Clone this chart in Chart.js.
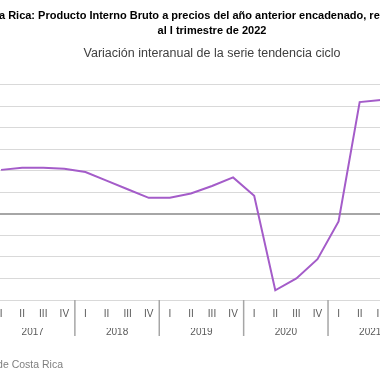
<!DOCTYPE html>
<html lang="es">
<head>
<meta charset="utf-8">
<title>PIB Costa Rica - variación interanual</title>
<script src="https://cdn.jsdelivr.net/npm/chart.js@4.4.1/dist/chart.umd.min.js"></script>
<style>
    html, body { margin: 0; padding: 0; background: #fff; overflow: hidden; }
    #wrap { position: absolute; left: -60px; top: 0; width: 544px; height: 380px; }
    #fuente {
        position: absolute; right: 317px; top: 358px;
        font: 10.5px "Liberation Sans", Arial, sans-serif; color: #7f7f7f; white-space: nowrap;
    }
</style>
</head>
<body>
<div id="wrap"><canvas id="pibChart" width="544" height="380"></canvas></div>
<div id="fuente">Fuente: Banco Central de Costa Rica</div>

<script>
    // datos del gráfico
    const years = ['2017', '2018', '2019', '2020', '2021', '2022'];
    const quartersPerYear = [4, 4, 4, 4, 4, 1];
    const quarters = ['I', 'II', 'III', 'IV', 'I', 'II', 'III', 'IV', 'I', 'II', 'III', 'IV',
                      'I', 'II', 'III', 'IV', 'I', 'II', 'III', 'IV', 'I'];
    // variación interanual (%), serie tendencia ciclo
    const variacion = [4.1, 4.3, 4.3, 4.2, 3.9, 3.1, 2.3, 1.5, 1.5, 1.9, 2.6, 3.4,
                       1.7, -7.1, -6.0, -4.2, -0.7, 10.4, 10.6, null, null];

    const FONT = "'Liberation Sans', Arial, sans-serif";

    // centro de cada año sobre el eje de trimestres
    const yearCenters = [];
    let acc = 0;
    quartersPerYear.forEach(n => { yearCenters.push(acc + (n - 1) / 2); acc += n; });

    // líneas verticales que separan los años
    const divisores = {
        id: 'divisores',
        afterDraw(chart) {
            const x = chart.scales.x;
            const bottom = chart.scales.year.bottom;
            const paso = x.getPixelForValue(1) - x.getPixelForValue(0);
            const ctx = chart.ctx;
            ctx.save();
            ctx.strokeStyle = '#a6a6a6';
            ctx.lineWidth = 1.5;
            let i = 0;
            for (let k = 0; k <= quartersPerYear.length; k++) {
                const px = x.getPixelForValue(i) - paso / 2;
                ctx.beginPath();
                ctx.moveTo(px, chart.chartArea.bottom);
                ctx.lineTo(px, bottom);
                ctx.stroke();
                i += quartersPerYear[k] || 0;
            }
            ctx.restore();
        }
    };

    const ctx = document.getElementById('pibChart').getContext('2d');
    new Chart(ctx, {
        type: 'line',
        data: {
            labels: quarters,
            datasets: [{
                label: 'Variación interanual',
                data: variacion,
                borderColor: '#a45cc9',
                borderWidth: 2,
                pointRadius: 0,
                tension: 0,
                fill: false
            }]
        },
        options: {
            responsive: false,
            animation: false,
            layout: { padding: { left: 10.5, right: 10.5, top: 0, bottom: 44 } },
            plugins: {
                legend: { display: false },
                tooltip: { enabled: false },
                title: {
                    display: true,
                    text: ['Costa Rica: Producto Interno Bruto a precios del año anterior encadenado, referencia 2017',
                           'al I trimestre de 2022'],
                    color: '#000',
                    font: { family: FONT, size: 11, weight: 'bold', lineHeight: 1.36 },
                    padding: { top: 8.5, bottom: 0 }
                },
                subtitle: {
                    display: true,
                    text: 'Variación interanual de la serie tendencia ciclo',
                    color: '#404040',
                    font: { family: FONT, size: 12.5, weight: 'normal', lineHeight: 1.2 },
                    padding: { top: 8, bottom: 23.5 }
                }
            },
            scales: {
                x: {
                    type: 'category',
                    offset: true,
                    grid: { display: false, drawTicks: false },
                    border: { display: false },
                    ticks: {
                        color: '#595959', font: { family: FONT, size: 10 },
                        padding: 8, autoSkip: false, maxRotation: 0
                    }
                },
                year: {
                    type: 'linear',
                    position: 'bottom',
                    weight: 1,
                    min: -0.5,
                    max: quarters.length - 0.5,
                    grid: { display: false, drawTicks: false },
                    border: { display: false },
                    afterBuildTicks: s => { s.ticks = yearCenters.map(v => ({ value: v })); },
                    ticks: {
                        color: '#595959', font: { family: FONT, size: 10 },
                        padding: -2, autoSkip: false, maxRotation: 0,
                        callback: (v, i) => years[i]
                    }
                },
                y: {
                    min: -8,
                    max: 12,
                    ticks: { stepSize: 2, color: '#595959', font: { family: FONT, size: 10 } },
                    border: { display: false },
                    grid: {
                        drawTicks: false,
                        color: c => c.tick && c.tick.value === 0 ? '#a6a6a6' : '#d9d9d9',
                        lineWidth: c => c.tick && c.tick.value === 0 ? 2 : 1
                    },
                    afterFit: s => { s.width = 40; }
                },
                // eje vacío a la derecha para que el área de trazado quede centrada
                yDer: {
                    type: 'linear',
                    position: 'right',
                    display: true,
                    ticks: { display: false },
                    border: { display: false },
                    grid: { drawOnChartArea: false, drawTicks: false },
                    afterFit: s => { s.width = 40; }
                }
            }
        },
        plugins: [divisores]
    });
</script>
</body>
</html>
